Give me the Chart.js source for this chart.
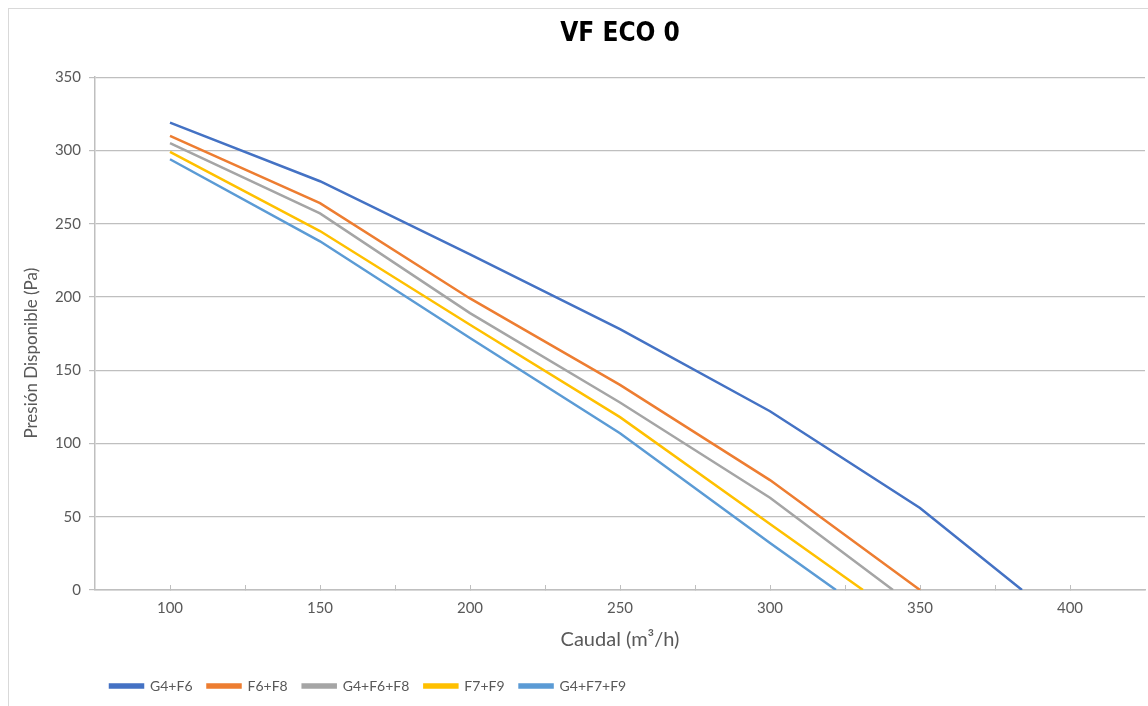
<!DOCTYPE html>
<html>
<head>
<meta charset="utf-8">
<script src="https://cdn.jsdelivr.net/npm/chart.js@4.4.1/dist/chart.umd.min.js"></script>
<style>
  html, body { margin: 0; padding: 0; background: #fff; }
  #wrap { position: relative; width: 1148px; height: 706px; }
  #frame { position: absolute; left: 8px; top: 8px; right: -10px; bottom: -10px; border-left: 1px solid #d9d9d9; border-top: 1px solid #d9d9d9; pointer-events: none; }
</style>
</head>
<body>
<div id="wrap">
  <canvas id="myChart" width="1148" height="706"></canvas>
  <div id="frame"></div>
</div>
<script>
// caudal (m3/h) and presion (Pa) per filter combination
var xG4F6 = [100, 150, 200, 250, 300, 350, 384];
var yG4F6 = [319, 279, 229, 178, 122, 56, 0];
var xF6F8 = [100, 150, 200, 250, 300, 350];
var yF6F8 = [310, 264, 199, 140, 75, 0];
var xG4F6F8 = [100, 150, 200, 250, 300, 341];
var yG4F6F8 = [305, 257, 189, 128, 63, 0];
var xF7F9 = [100, 150, 200, 250, 300, 331];
var yF7F9 = [299, 245, 181, 118, 45, 0];
var xG4F7F9 = [100, 150, 200, 250, 300, 322];
var yG4F7F9 = [294, 238, 172, 107, 32, 0];

var seriesNames = ['G4+F6', 'F6+F8', 'G4+F6+F8', 'F7+F9', 'G4+F7+F9'];
var seriesColors = ['#4472C4', '#ED7D31', '#A5A5A5', '#FFC000', '#5B9BD5'];

function points(xs, ys) {
    return xs.map(function(x, i) { return {x: x, y: ys[i]}; });
}

var allX = [xG4F6, xF6F8, xG4F6F8, xF7F9, xG4F7F9];
var allY = [yG4F6, yF6F8, yG4F6F8, yF7F9, yG4F7F9];

var datasets = seriesNames.map(function(name, i) {
    return {
        label: name,
        data: points(allX[i], allY[i]),
        borderColor: seriesColors[i],
        backgroundColor: seriesColors[i],
        borderWidth: 2.5,
        pointRadius: 0,
        tension: 0
    };
});

var font = "Lato, 'Open Sans', sans-serif";

var ctx = document.getElementById("myChart").getContext('2d');

var myChart = new Chart(ctx, {
    type: 'line',
    data: { datasets: datasets },
    options: {
        responsive: false,
        animation: false,
        layout: { padding: { left: 0, right: 3, top: 0, bottom: 3 } },
        plugins: {
            title: {
                display: true,
                fullSize: false,
                text: 'VF ECO 0',
                color: '#000',
                font: { family: "'Liberation Sans Narrow', 'DejaVu Sans Condensed', sans-serif", size: 26, weight: 'bold' },
                padding: { top: 19, bottom: 27 }
            },
            legend: {
                position: 'bottom',
                align: 'start',
                fullSize: false,
                labels: {
                    boxWidth: 33,
                    boxHeight: 3,
                    padding: 15,
                    color: '#595959',
                    font: { family: font, size: 14 }
                }
            },
            tooltip: { enabled: false }
        },
        scales: {
            x: {
                type: 'linear',
                min: 75,
                max: 425,
                afterFit: function(scale) { scale.height = 74; },
                border: { color: '#bfbfbf', width: 1.5 },
                grid: {
                    drawOnChartArea: false,
                    tickLength: -5,
                    color: function(c) {
                        var v = c.tick ? c.tick.value : 0;
                        return (v <= 75 || v >= 425) ? 'rgba(0,0,0,0)' : '#bfbfbf';
                    }
                },
                ticks: {
                    stepSize: 25,
                    padding: 3,
                    color: '#595959',
                    font: { family: font, size: 15, lineHeight: 2.67 },
                    autoSkip: false,
                    maxRotation: 0,
                    callback: function(v) { return (v % 50 === 0 && v > 75 && v < 425) ? v : ''; }
                },
                title: {
                    display: true,
                    text: 'Caudal (m³/h)',
                    color: '#595959',
                    font: { family: font, size: 20 },
                    padding: { top: 0, bottom: 12 }
                }
            },
            y: {
                min: 0,
                max: 350,
                afterFit: function(scale) { scale.width = 95; },
                border: { color: '#bfbfbf', width: 1.5 },
                grid: {
                    color: '#bfbfbf',
                    lineWidth: 1.2,
                    tickLength: 6
                },
                ticks: {
                    stepSize: 50,
                    padding: 8,
                    color: '#595959',
                    font: { family: font, size: 15 }
                },
                title: {
                    display: true,
                    text: 'Presión Disponible (Pa)         ',
                    color: '#595959',
                    font: { family: font, size: 17 },
                    padding: { top: 21, bottom: 0 }
                }
            }
        }
    }
});
</script>
</body>
</html>
